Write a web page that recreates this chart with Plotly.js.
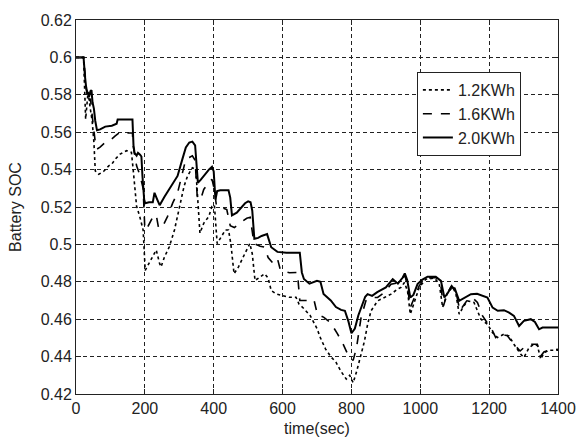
<!DOCTYPE html>
<html>
<head>
<meta charset="utf-8">
<script src="https://cdn.plot.ly/plotly-3.0.1.min.js"></script>
<style>html,body{margin:0;padding:0;background:#fff;}#chart{width:576px;height:439px;}</style>
</head>
<body>
<div id="chart"></div>
<script>
// ---- data ----
const seriesNames = ["1.2KWh", "1.6KWh", "2.0KWh"];

const t12 = [0,22,28,35,42,47,52,56,66,80,95,104,114,128,147,161,166,171,176,185,195,201,210,224,233,243,247,257,271,286,300,314,324,338,348,354,360,371,386,395,402,410,419,434,443,450,459,472,481,496,505,512,520,534,548,558,567,582,601,620,639,648,660,680,700,710,725,740,755,770,785,795,805,815,828,838,847,857,876,896,915,934,944,954,963,971,983,997,1016,1041,1055,1065,1079,1094,1103,1113,1123,1137,1156,1166,1176,1195,1210,1224,1243,1258,1272,1292,1301,1316,1330,1340,1350,1359,1374,1400];
const soc12 = [0.600,0.600,0.567,0.5815,0.572,0.566,0.5546,0.5393,0.5375,0.539,0.542,0.5429,0.5456,0.5483,0.5501,0.5492,0.5402,0.530,0.5204,0.515,0.5077,0.4861,0.489,0.4933,0.497,0.4897,0.488,0.4933,0.4987,0.5077,0.5186,0.5312,0.5366,0.541,0.5402,0.522,0.506,0.5113,0.515,0.5204,0.521,0.5005,0.503,0.5077,0.5077,0.500,0.4843,0.488,0.4915,0.4969,0.5005,0.495,0.4807,0.4825,0.4843,0.482,0.4753,0.4735,0.4726,0.4717,0.4717,0.468,0.466,0.462,0.455,0.450,0.444,0.440,0.437,0.432,0.428,0.430,0.426,0.432,0.4412,0.4484,0.4573,0.4645,0.4698,0.4716,0.4734,0.4761,0.477,0.4796,0.475,0.4627,0.4698,0.477,0.4814,0.482,0.479,0.4663,0.4743,0.477,0.474,0.4627,0.466,0.4698,0.469,0.4645,0.460,0.4573,0.4528,0.4502,0.452,0.451,0.4466,0.4412,0.4395,0.4448,0.4466,0.446,0.4386,0.442,0.4434,0.4434];

const t16 = [0,22,28,32,38,42,47,52,56,61,70,85,104,114,128,138,164,166,176,185,195,200,210,224,233,240,253,266,281,295,309,319,329,338,346,352,362,371,386,395,402,408,419,438,448,460,476,496,506,512,517,535,548,558,572,585,594,620,643,650,672,691,701,720,740,760,775,790,805,815,828,842,857,876,896,915,935,949,956,963,971,983,997,1016,1045,1058,1067,1080,1091,1103,1115,1128,1142,1156,1166,1181,1195,1210,1219,1234,1253,1272,1290,1301,1321,1340,1350,1359,1374,1400];
const soc16 = [0.600,0.600,0.588,0.580,0.576,0.578,0.569,0.560,0.5546,0.551,0.552,0.5546,0.5564,0.558,0.560,0.5596,0.5596,0.5528,0.542,0.5375,0.530,0.5077,0.510,0.515,0.5158,0.5086,0.510,0.515,0.5222,0.5276,0.5384,0.5456,0.5465,0.5474,0.545,0.5258,0.524,0.5294,0.533,0.5348,0.5294,0.5204,0.520,0.5186,0.510,0.509,0.5115,0.514,0.5145,0.508,0.5005,0.499,0.4985,0.493,0.490,0.4925,0.486,0.4848,0.485,0.470,0.470,0.4705,0.4627,0.461,0.458,0.452,0.447,0.441,0.438,0.445,0.4609,0.4698,0.4716,0.4716,0.4743,0.4787,0.4795,0.4823,0.4832,0.477,0.4663,0.4716,0.4779,0.482,0.4823,0.4805,0.4671,0.4743,0.4779,0.4752,0.4645,0.468,0.4716,0.4707,0.469,0.4618,0.4582,0.4537,0.4502,0.452,0.4511,0.4466,0.443,0.4448,0.4466,0.4466,0.4403,0.4425,0.4434,0.4439];

const t20 = [0,22,26,30,34,38,42,45,48,52,56,61,70,85,104,118,121,140,164,167,170,176,180,186,190,193,198,201,212,223,228,236,243,257,276,295,309,319,329,338,346,350,354,362,371,386,395,400,405,410,419,443,448,453,467,481,491,500,507,512,518,529,539,555,562,567,585,611,650,656,662,678,700,710,719,740,755,770,781,791,800,810,820,830,840,847,860,875,890,900,920,935,949,955,962,971,980,992,1005,1021,1045,1060,1070,1080,1089,1100,1113,1125,1137,1147,1165,1181,1195,1210,1225,1243,1258,1272,1287,1301,1321,1333,1345,1355,1370,1400];
const soc20 = [0.600,0.600,0.590,0.583,0.581,0.579,0.582,0.5825,0.576,0.5726,0.566,0.561,0.5615,0.563,0.5635,0.5645,0.5668,0.5668,0.5668,0.553,0.549,0.5475,0.549,0.548,0.547,0.5366,0.524,0.522,0.5225,0.5225,0.5276,0.524,0.521,0.5255,0.531,0.5366,0.5456,0.5519,0.5545,0.555,0.553,0.545,0.533,0.5345,0.5366,0.540,0.5415,0.539,0.524,0.5285,0.529,0.529,0.525,0.5155,0.517,0.520,0.522,0.523,0.5225,0.518,0.503,0.5035,0.5045,0.5055,0.502,0.4985,0.496,0.4955,0.4955,0.485,0.4815,0.479,0.4805,0.480,0.4735,0.470,0.4665,0.465,0.4645,0.459,0.4525,0.455,0.462,0.467,0.472,0.4734,0.4725,0.4745,0.476,0.477,0.4814,0.479,0.4823,0.4845,0.481,0.4716,0.473,0.4788,0.481,0.4827,0.4827,0.4805,0.4716,0.474,0.477,0.4765,0.4698,0.471,0.4725,0.4734,0.4736,0.4725,0.4716,0.4662,0.4645,0.4648,0.4635,0.4618,0.4564,0.4591,0.460,0.4585,0.4546,0.4555,0.4555,0.4555];

const xTickVals = [0,200,400,600,800,1000,1200,1400];
const xTickText = ["0","200","400","600","800","1000","1200","1400"];
const yTickVals = [0.42,0.44,0.46,0.48,0.5,0.52,0.54,0.56,0.58,0.6,0.62];
const yTickText = ["0.42","0.44","0.46","0.48","0.5","0.52","0.54","0.56","0.58","0.6","0.62"];

// ---- chart ----
const FONT = "Liberation Sans, Arial, sans-serif";
const traces = [
  {x: t12, y: soc12, name: seriesNames[0], mode: "lines", line: {color: "#000", width: 1.6, dash: "dot"}},
  {x: t16, y: soc16, name: seriesNames[1], mode: "lines", line: {color: "#000", width: 1.6, dash: "dash"}},
  {x: t20, y: soc20, name: seriesNames[2], mode: "lines", line: {color: "#000", width: 2}}
];

const axisCommon = {
  showline: true, linecolor: "#222", linewidth: 1, mirror: "ticks",
  ticks: "inside", ticklen: 5, tickcolor: "#222",
  showgrid: true, gridcolor: "#222", gridwidth: 1, griddash: "4px,3px",
  zeroline: false, tickfont: {family: FONT, size: 16, color: "#222"}
};

const layout = {
  width: 576, height: 439,
  margin: {l: 76, r: 18, t: 20, b: 45, pad: 0},
  paper_bgcolor: "#fff", plot_bgcolor: "#fff",
  font: {family: FONT, size: 16, color: "#222"},
  showlegend: true,
  legend: {
    x: 0.923, xanchor: "right", y: 0.861, yanchor: "top",
    bgcolor: "#fff", bordercolor: "#222", borderwidth: 1,
    font: {family: FONT, size: 16, color: "#222"}
  },
  xaxis: Object.assign({}, axisCommon, {
    range: [0, 1400], tickmode: "array", tickvals: xTickVals, ticktext: xTickText,
    title: {text: "time(sec)", font: {family: FONT, size: 16, color: "#222"}, standoff: 6},
    automargin: false
  }),
  yaxis: Object.assign({}, axisCommon, {
    range: [0.42, 0.62], tickmode: "array", tickvals: yTickVals, ticktext: yTickText,
    title: {text: "Battery SOC", font: {family: FONT, size: 16, color: "#222"}, standoff: 15},
    automargin: false
  })
};

Plotly.newPlot("chart", traces, layout, {displayModeBar: false, staticPlot: true});
</script>
</body>
</html>
